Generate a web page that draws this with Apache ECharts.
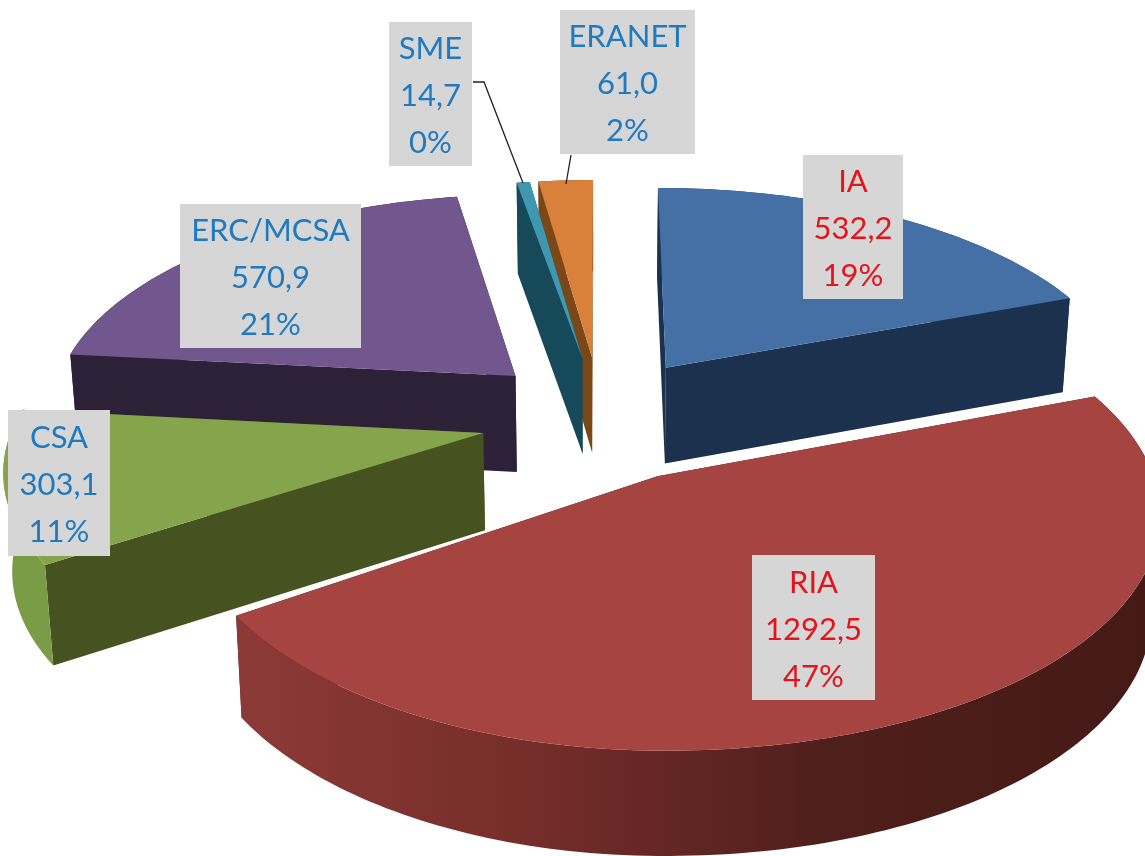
<!DOCTYPE html>
<html>
<head>
<meta charset="utf-8">
<style>
  html, body { margin: 0; padding: 0; background: #fff; }
  #chart { width: 1145px; height: 856px; }
</style>
<script src="https://cdn.jsdelivr.net/npm/echarts@6/dist/echarts.min.js"></script>
</head>
<body>
<div id="chart"></div>
<script>
  /******************/
  //region    //data

  let categories = ['IA', 'RIA', 'CSA', 'ERC/MCSA', 'SME', 'ERANET'];
  let amounts = [532.2, 1292.5, 303.1, 570.9, 14.7, 61.0];
  let percentLabels = ['19%', '47%', '11%', '21%', '0%', '2%'];

  //endregion

  /******************/
  //region    //style

  let topColors = ['#4470a6', '#a64441', '#86a44b', '#72568e', '#3f97b0', '#d9813b'];
  let wallColors = ['#1b314d', '#451a16', '#46521f', '#2d2138', '#164a5a', '#7a4716'];
  let rimColors = ['#1b314d', null, '#7b9c46', '#2d2138', '#164a5a', '#7a4716'];
  let labelColors = ['#e3141c', '#e3141c', '#1f7ac0', '#1f7ac0', '#1f7ac0', '#1f7ac0'];
  // x0, y0, x1, y1 of the hand placed data labels
  let labelBoxes = [
    [803, 155, 903, 299],
    [752, 555, 875, 700],
    [8, 410, 110, 556],
    [180, 204, 361, 348],
    [389, 22, 472, 166],
    [560, 10, 695, 154]
  ];
  let leaderLines = [
    [[473, 82], [484, 82], [523, 183]],
    [[571, 155], [566, 184]]
  ];
  // back to front
  let drawOrder = [5, 4, 0, 3, 2, 1];
  // left and right horizontal radius of each slice
  let sliceRadius = [[458, 472], [448, 478], [468, 478], [468, 478], [468, 478], [468, 478]];

  let view = {
    cx: 600, cy: 418, ry: 218, persp: 0.14,
    depth: 97, depthPersp: 0.4, shrink: 0.985, explode: 0.289, explodeX: 0.88
  };

  //endregion

  /******************/
  //region    //function

  let total = amounts.reduce((a, b) => a + b, 0);

  /**
   * world point on the pie plane -> screen point
   */
  function project(idx, x, y, low) {
    let s = 1 / (1 - view.persp * y);
    let sx = view.cx + sliceRadius[idx][x < 0 ? 0 : 1] * x * s;
    let sy = view.cy + view.ry * y * s;
    if (low) {
      sx = view.cx + (sx - view.cx) * view.shrink;
      sy += view.depth * (1 + (s - 1) * view.depthPersp);
    }
    return [sx, sy];
  }

  function sliceGeometry(idx) {
    let before = amounts.slice(0, idx).reduce((a, b) => a + b, 0);
    let start = before / total * Math.PI * 2;
    let end = (before + amounts[idx]) / total * Math.PI * 2;
    let mid = (start + end) / 2;
    let ox = Math.sin(mid) * view.explode * view.explodeX;
    let oy = -Math.cos(mid) * view.explode;
    let arc = [];
    let steps = Math.max(4, Math.ceil((end - start) / 0.02));
    for (let i = 0; i <= steps; i++) {
      let a = start + (end - start) * i / steps;
      arc.push([ox + Math.sin(a), oy - Math.cos(a)]);
    }
    return {apex: [ox, oy], arc};
  }

  function renderSlice(params, api) {
    let idx = api.value(0);
    let {apex, arc} = sliceGeometry(idx);
    let zBase = drawOrder.indexOf(idx) * 10;
    let first = arc[0];
    let last = arc[arc.length - 1];
    let wall = (a, b, fill, z) => ({
      type: 'polygon',
      z2: zBase + z,
      shape: {points: [project(idx, a[0], a[1]), project(idx, b[0], b[1]), project(idx, b[0], b[1], true), project(idx, a[0], a[1], true)]},
      style: {fill}
    });
    let rimFill = rimColors[idx] || new echarts.graphic.LinearGradient(240, 0, 1145, 0, [
      {offset: 0, color: '#8c3a37'},
      {offset: 0.3, color: '#772e2b'},
      {offset: 0.65, color: '#4f1f1b'},
      {offset: 1, color: '#451a16'}
    ], true);
    let rim = {
      type: 'polygon',
      z2: zBase + 2,
      shape: {
        points: arc.map(p => project(idx, p[0], p[1]))
          .concat(arc.slice().reverse().map(p => project(idx, p[0], p[1], true)))
      },
      style: {fill: rimFill}
    };
    let top = {
      type: 'polygon',
      z2: zBase + 3,
      shape: {points: [project(idx, apex[0], apex[1])].concat(arc.map(p => project(idx, p[0], p[1])))},
      style: {fill: topColors[idx]}
    };
    return {
      type: 'group',
      children: [wall(apex, first, wallColors[idx], 0), wall(apex, last, wallColors[idx], 1), rim, top]
    };
  }

  function renderLabel(params, api) {
    let idx = api.value(0);
    let box = labelBoxes[idx];
    let text = categories[idx] + '\n' + amounts[idx].toFixed(1).replace('.', ',') + '\n' + percentLabels[idx];
    return {
      type: 'group',
      children: [
        {type: 'rect', z2: 100, shape: {x: box[0], y: box[1], width: box[2] - box[0], height: box[3] - box[1]}, style: {fill: '#d6d6d6'}},
        {
          type: 'text',
          z2: 101,
          x: (box[0] + box[2]) / 2,
          y: (box[1] + box[3]) / 2 + 2,
          style: {
            text,
            fill: labelColors[idx],
            font: '31px Lato, "Open Sans", sans-serif',
            lineHeight: 47,
            align: 'center',
            verticalAlign: 'middle'
          }
        }
      ]
    };
  }

  function renderLeader(params) {
    return {
      type: 'polyline',
      z2: 90,
      shape: {points: leaderLines[params.dataIndex]},
      style: {fill: null, stroke: '#222', lineWidth: 1.3}
    };
  }

  //endregion

  let chart = echarts.init(document.getElementById('chart'));
  let sliceData = amounts.map((v, i) => [i, v]);
  chart.setOption({
    backgroundColor: '#fff',
    animation: false,
    series: [
      {type: 'custom', coordinateSystem: 'none', renderItem: renderSlice, data: sliceData, silent: true, z: 1},
      {type: 'custom', coordinateSystem: 'none', renderItem: renderLeader, data: leaderLines.map((l, i) => [i]), silent: true, z: 2},
      {type: 'custom', coordinateSystem: 'none', renderItem: renderLabel, data: sliceData, silent: true, z: 3}
    ]
  });
</script>
</body>
</html>
